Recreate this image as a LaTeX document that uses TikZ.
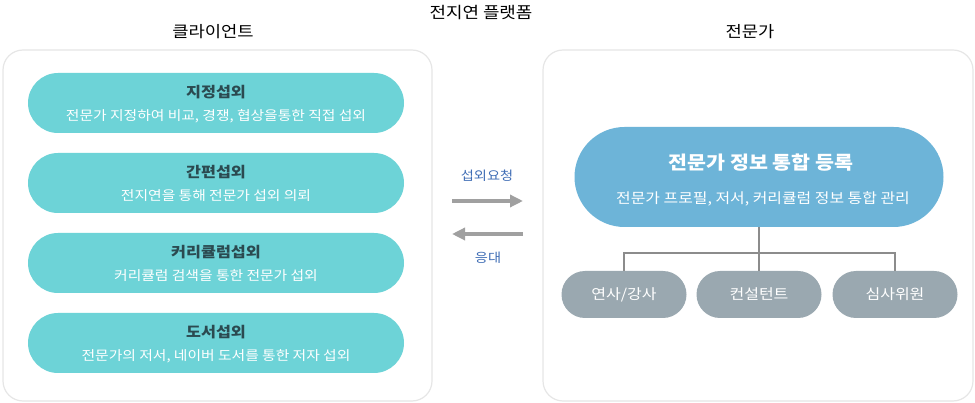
\documentclass[tikz,border=0pt]{standalone}
\usepackage{fontspec}
\setmainfont{Noto Sans CJK KR}[FakeStretch=1.12]
\usetikzlibrary{arrows.meta,shapes.misc}
\definecolor{panelline}{HTML}{E6E6E6}
\definecolor{tealpill}{HTML}{6DD3D7}
\definecolor{tealtext}{HTML}{2B4A50}
\definecolor{bluepill}{HTML}{6DB4D8}
\definecolor{graypill}{HTML}{9AA8B0}
\definecolor{treeline}{HTML}{8C8C8C}
\definecolor{flowgray}{HTML}{A0A0A0}
\definecolor{flowtext}{HTML}{3F6DB5}
\begin{document}
\begin{tikzpicture}[x=1pt, y=-1pt,
    panel/.style={draw=panelline, line width=1.2pt, rounded corners=20pt, fill=white},
    heading/.style={inner sep=0pt, font=\fontsize{15.8}{18}\selectfont},
    casepill/.style={rounded rectangle, fill=tealpill, minimum width=376pt, minimum height=60pt, inner sep=0pt},
    casetitle/.style={inner sep=0pt, text=tealtext, font=\fontsize{14.5}{16}\selectfont\bfseries},
    casenote/.style={inner sep=0pt, text=white, font=\fontsize{13.2}{15}\selectfont},
    rolepill/.style={rounded rectangle, fill=graypill, minimum width=125pt, minimum height=47pt, inner sep=0pt,
        text=white, font=\fontsize{14.3}{16}\selectfont},
    flow/.style={draw=flowgray, line width=4.5pt, -{Triangle[length=13pt,width=12pt]}},
    flowlabel/.style={inner sep=0pt, text=flowtext, font=\fontsize{12.7}{14}\selectfont},
    tree/.style={draw=treeline, line width=2pt}]
    \useasboundingbox (0,0) rectangle (975,403);
    % Panels
    \draw[panel] (3,50) rectangle (432,401);
    \draw[panel] (543,50) rectangle (973,401);
    \node[heading, font=\fontsize{16}{18}\selectfont] (platform) at (481,13) {전지연 플랫폼};
    \node[heading] (client) at (213,32) {클라이언트};
    \node[heading] (expert) at (750,32) {전문가};
    % Client side
    \node[casepill] (direct) at (216,103) {};
    \node[casetitle] (directT) at ([yshift=11pt]direct.center) {지정섭외};
    \node[casenote] (directN) at ([yshift=-13pt]direct.center) {전문가 지정하여 비교, 경쟁, 협상을통한 직접 섭외};
    \node[casepill] (simple) at (216,183) {};
    \node[casetitle] (simpleT) at ([yshift=11pt]simple.center) {간편섭외};
    \node[casenote] (simpleN) at ([yshift=-13pt]simple.center) {전지연을 통해 전문가 섭외 의뢰};
    \node[casepill] (course) at (216,263) {};
    \node[casetitle] (courseT) at ([yshift=11pt]course.center) {커리큘럼섭외};
    \node[casenote] (courseN) at ([yshift=-13pt]course.center) {커리큘럼 검색을 통한 전문가 섭외};
    \node[casepill] (book) at (216,343) {};
    \node[casetitle] (bookT) at ([yshift=11pt]book.center) {도서섭외};
    \node[casenote] (bookN) at ([yshift=-13pt]book.center) {전문가의 저서, 네이버 도서를 통한 저자 섭외};
    % Request and answer
    \coordinate (reqA) at (452,201);
    \coordinate (reqB) at (523,201);
    \coordinate (ansA) at (523,234);
    \coordinate (ansB) at (452,234);
    \draw[flow] (reqA) -- (reqB);
    \draw[flow] (ansA) -- (ansB);
    \node[flowlabel] (req) at (487,176) {섭외요청};
    \node[flowlabel] (ans) at (488,258) {응대};
    % Expert side
    \node[rounded rectangle, fill=bluepill, minimum width=369pt, minimum height=100pt, inner sep=0pt] (reg) at (759,177) {};
    \node[inner sep=0pt, text=white, font=\fontsize{18.4}{20}\selectfont\bfseries] (regT) at (761,163) {전문가 정보 통합 등록};
    \node[inner sep=0pt, text=white, font=\fontsize{14.2}{16}\selectfont] (regN) at (763,199) {전문가 프로필, 저서, 커리큘럼 정보 통합 관리};
    \node[rolepill] (lect) at (624,294.5) {연사/강사};
    \node[rolepill] (cons) at (759,294.5) {컨설턴트};
    \node[rolepill] (judge) at (895,294.5) {심사위원};
    \coordinate (fork) at (759,253);
    \draw[tree] (reg.south) -- (cons.north);
    \draw[tree] (lect.north) |- (fork) -| (judge.north);
\end{tikzpicture}
\end{document}
